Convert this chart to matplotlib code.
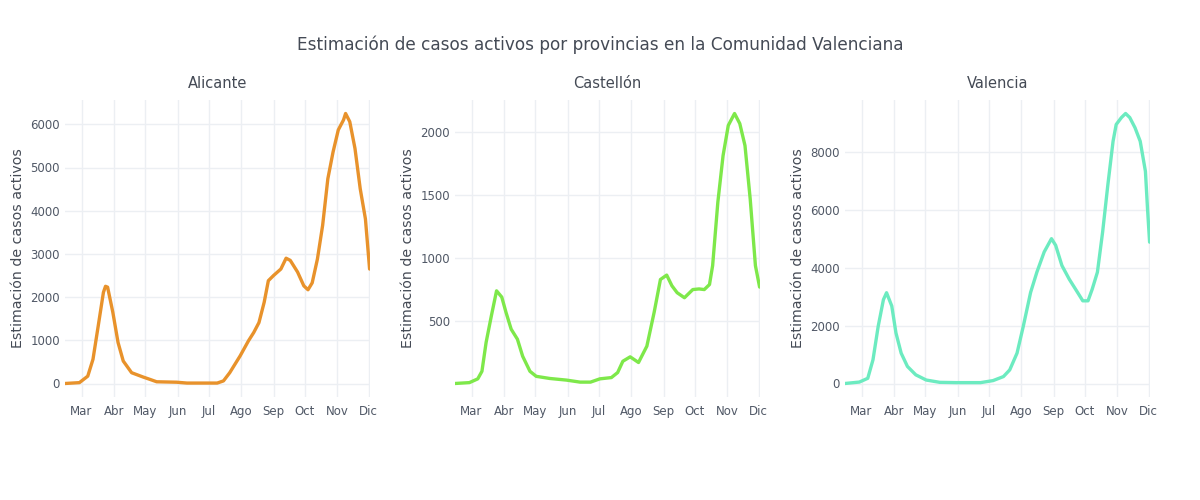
import matplotlib
matplotlib.use("Agg")
import matplotlib.pyplot as plt
import pandas as pd

title = "Estimación de casos activos por provincias en la Comunidad Valenciana"
provinces = ["Alicante", "Castellón", "Valencia"]
ylabel = "Estimación de casos activos"
month_ticks = ["2020-03-01", "2020-04-01", "2020-05-01", "2020-06-01", "2020-07-01",
               "2020-08-01", "2020-09-01", "2020-10-01", "2020-11-01", "2020-12-01"]
month_labels = ["Mar", "Abr", "May", "Jun", "Jul", "Ago", "Sep", "Oct", "Nov", "Dic"]

alicante_dates = ["2020-02-14", "2020-02-28", "2020-03-07", "2020-03-12", "2020-03-17", "2020-03-22",
                  "2020-03-24", "2020-03-26", "2020-03-31", "2020-04-05", "2020-04-10", "2020-04-18",
                  "2020-04-29", "2020-05-05", "2020-05-12", "2020-05-31", "2020-06-10", "2020-07-09",
                  "2020-07-15", "2020-07-21", "2020-07-31", "2020-08-08", "2020-08-13", "2020-08-18",
                  "2020-08-23", "2020-08-27", "2020-09-01", "2020-09-08", "2020-09-13", "2020-09-17",
                  "2020-09-24", "2020-09-30", "2020-10-04", "2020-10-08", "2020-10-13", "2020-10-18",
                  "2020-10-23", "2020-10-28", "2020-11-02", "2020-11-07", "2020-11-09", "2020-11-13",
                  "2020-11-18", "2020-11-23", "2020-11-28", "2020-12-02"]
alicante_values = [0, 20, 170, 560, 1330, 2110, 2250, 2230, 1650, 950, 520, 250,
                   150, 100, 40, 30, 10, 10, 60, 250, 640, 990, 1180, 1410,
                   1880, 2380, 2500, 2650, 2900, 2850, 2580, 2260, 2170, 2330, 2880, 3660,
                   4740, 5360, 5870, 6100, 6250, 6060, 5440, 4510, 3810, 2650]

castellon_dates = ["2020-02-14", "2020-02-28", "2020-03-07", "2020-03-11", "2020-03-15", "2020-03-20",
                   "2020-03-25", "2020-03-30", "2020-04-03", "2020-04-08", "2020-04-14", "2020-04-19",
                   "2020-04-26", "2020-05-02", "2020-05-15", "2020-05-31", "2020-06-13", "2020-06-23",
                   "2020-07-02", "2020-07-13", "2020-07-19", "2020-07-24", "2020-07-31", "2020-08-08",
                   "2020-08-16", "2020-08-23", "2020-08-29", "2020-09-04", "2020-09-09", "2020-09-14",
                   "2020-09-21", "2020-09-29", "2020-10-05", "2020-10-10", "2020-10-15", "2020-10-18",
                   "2020-10-23", "2020-10-28", "2020-11-02", "2020-11-08", "2020-11-13", "2020-11-18",
                   "2020-11-23", "2020-11-28", "2020-12-02"]
castellon_values = [3, 10, 40, 100, 330, 540, 740, 690, 570, 435, 355, 220,
                    100, 60, 43, 30, 14, 14, 40, 50, 90, 180, 215, 170,
                    300, 570, 830, 865, 780, 725, 685, 750, 755, 750, 790, 940,
                    1445, 1815, 2055, 2150, 2070, 1895, 1470, 940, 770]

valencia_dates = ["2020-02-14", "2020-02-28", "2020-03-07", "2020-03-12", "2020-03-17", "2020-03-22",
                  "2020-03-25", "2020-03-30", "2020-04-03", "2020-04-08", "2020-04-14", "2020-04-22",
                  "2020-05-02", "2020-05-15", "2020-05-31", "2020-06-23", "2020-07-05", "2020-07-15",
                  "2020-07-21", "2020-07-28", "2020-08-03", "2020-08-10", "2020-08-16", "2020-08-23",
                  "2020-08-30", "2020-09-03", "2020-09-09", "2020-09-16", "2020-09-24", "2020-09-29",
                  "2020-10-04", "2020-10-08", "2020-10-13", "2020-10-18", "2020-10-23", "2020-10-28",
                  "2020-10-31", "2020-11-05", "2020-11-09", "2020-11-13", "2020-11-18", "2020-11-23",
                  "2020-11-28", "2020-11-30", "2020-12-02"]
valencia_values = [0, 50, 180, 820, 1980, 2900, 3140, 2680, 1750, 1050, 590, 300,
                   120, 40, 30, 30, 100, 240, 470, 1050, 1980, 3150, 3850, 4550,
                   5010, 4780, 4080, 3610, 3150, 2860, 2860, 3260, 3850, 5240, 6870, 8380,
                   8960, 9200, 9340, 9200, 8850, 8380, 7340, 6050, 4890]

alicante_ticks = [0, 1000, 2000, 3000, 4000, 5000, 6000]
castellon_ticks = [500, 1000, 1500, 2000]
valencia_ticks = [0, 2000, 4000, 6000, 8000]

colors = ["#E8922B", "#7EE84A", "#6CEBC0"]
text_color = "#444a55"
tick_color = "#505866"
grid_color = "#ECEFF3"

series = [
    (alicante_dates, alicante_values, alicante_ticks),
    (castellon_dates, castellon_values, castellon_ticks),
    (valencia_dates, valencia_values, valencia_ticks),
]

plt.rcParams["font.family"] = ["DejaVu Sans"]
fig = plt.figure(figsize=(12, 5), dpi=100)
fig.patch.set_facecolor("white")

lefts = [0.054, 0.379, 0.704]
width = 0.254
bottom = 0.206
height = 0.594

for i, (name, (d, v, yt)) in enumerate(zip(provinces, series)):
    ax = fig.add_axes([lefts[i], bottom, width, height])
    x = pd.to_datetime(d)
    ax.plot(x, v, color=colors[i], linewidth=2.4, solid_capstyle="round", solid_joinstyle="round")
    ax.set_xlim(x.min(), x.max())
    ax.margins(y=0.05)
    ax.set_xticks(pd.to_datetime(month_ticks))
    ax.set_xticklabels(month_labels)
    ax.set_yticks(yt)
    ax.set_yticklabels([str(t) for t in yt])
    ax.grid(True, color=grid_color, linewidth=1)
    ax.set_axisbelow(True)
    for s in ax.spines.values():
        s.set_visible(False)
    ax.tick_params(axis="x", length=0, labelsize=8.5, colors=tick_color, pad=6)
    ax.tick_params(axis="y", length=0, labelsize=8.5, colors=tick_color, pad=3.5)
    ax.set_ylabel(ylabel, fontsize=10.2, color=text_color, labelpad=4)
    ax.set_title(name, fontsize=10.5, color=text_color, pad=9)

fig.text(0.5, 0.91, title, ha="center", va="center", fontsize=12.2, color=text_color)

fig.savefig("out.png", dpi=100, facecolor="white")
